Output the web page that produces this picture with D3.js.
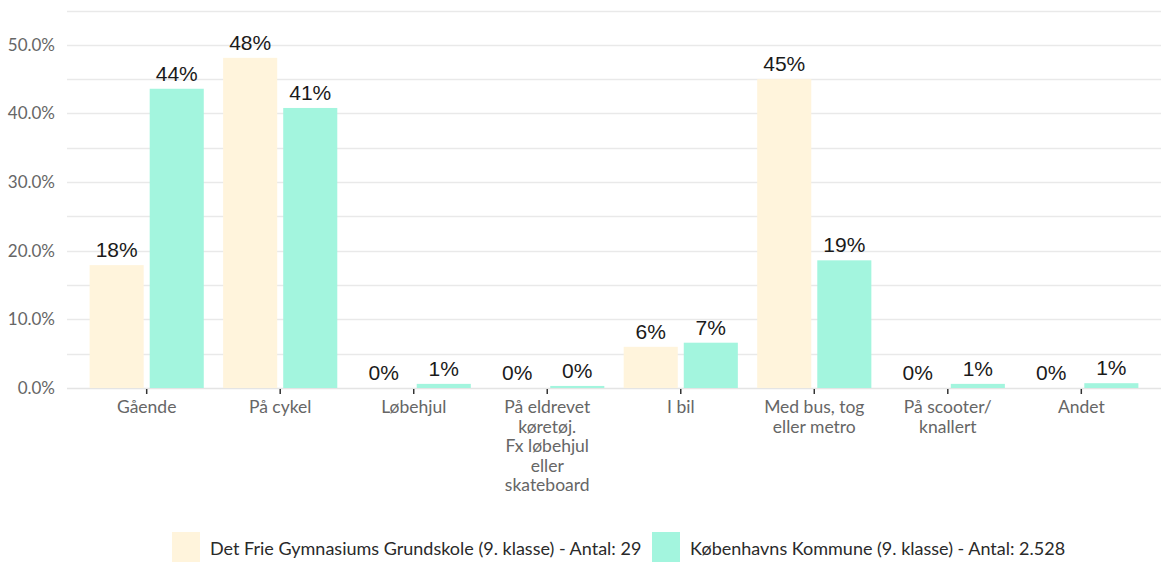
<!DOCTYPE html>
<html>
<head>
<meta charset="utf-8">
<script src="https://cdn.jsdelivr.net/npm/d3@7"></script>
<style>
  body { margin: 0; background: #fff; }
  svg { display: block; }
</style>
</head>
<body>
<div id="chart"></div>
<script>
const categories = ["Gående", "På cykel", "Løbehjul", "På eldrevet\nkøretøj.\nFx løbehjul\neller\nskateboard", "I bil", "Med bus, tog\neller metro", "På scooter/\nknallert", "Andet"];
const seriesNames = ["Det Frie Gymnasiums Grundskole (9. klasse) - Antal: 29", "Københavns Kommune (9. klasse) - Antal: 2.528"];
const schoolValues = [17.9, 48.1, 0, 0, 6.0, 45.0, 0, 0];
const kommuneValues = [43.6, 40.8, 0.6, 0.3, 6.6, 18.6, 0.6, 0.7];
const colors = ["#fff4dc", "#a3f5de"];
const yTicks = [0, 10, 20, 30, 40, 50];

const width = 1161, height = 562;
const svg = d3.select("#chart").append("svg")
  .attr("width", width).attr("height", height);

const y = d3.scaleLinear().domain([0, 55]).range([388, 10.5]);
const x = d3.scaleBand().domain(categories).range([80, 1148]).paddingInner(0.145).paddingOuter(0.072);
const xs = d3.scaleBand().domain([0, 1]).range([0, x.bandwidth()]).paddingInner(0.1);

// grid lines every 5%
svg.append("g").selectAll("line")
  .data(d3.range(5, 56, 5))
  .join("line")
    .attr("x1", 67).attr("x2", width)
    .attr("y1", d => Math.round(y(d)) + 0.5).attr("y2", d => Math.round(y(d)) + 0.5)
    .attr("stroke", "#e9e9e9").attr("stroke-width", 1.5);

// y axis labels
const yAxis = svg.append("g")
  .attr("transform", "translate(58,0)")
  .call(d3.axisLeft(y).tickValues(yTicks).tickSize(0).tickFormat(d => d.toFixed(1) + "%"));
yAxis.select(".domain").remove();
yAxis.selectAll("text")
  .attr("font-family", "Lato, 'Open Sans', sans-serif")
  .attr("font-size", 17).attr("fill", "#666");

// baseline
svg.append("line")
  .attr("x1", 67).attr("x2", width)
  .attr("y1", y(0) + 0.5).attr("y2", y(0) + 0.5)
  .attr("stroke", "#e4e4e4").attr("stroke-width", 1.5);

// bars
const rows = categories.map((c, i) => ({cat: c, vals: [schoolValues[i], kommuneValues[i]]}));
const groups = svg.append("g").selectAll("g")
  .data(rows)
  .join("g")
    .attr("transform", d => `translate(${x(d.cat)},0)`);

groups.selectAll("rect")
  .data(d => d.vals.map((v, k) => ({v, k})))
  .join("rect")
    .attr("x", d => xs(d.k))
    .attr("width", xs.bandwidth())
    .attr("y", d => y(d.v))
    .attr("height", d => y(0) - y(d.v))
    .attr("fill", d => colors[d.k]);

groups.selectAll("text.val")
  .data(d => d.vals.map((v, k) => ({v, k})))
  .join("text")
    .attr("class", "val")
    .attr("x", d => xs(d.k) + xs.bandwidth() / 2)
    .attr("y", d => y(d.v) - 8)
    .attr("text-anchor", "middle")
    .attr("font-family", "Arial, 'Liberation Sans', sans-serif")
    .attr("font-size", 21).attr("fill", "#1a1a1a")
    .text(d => Math.round(d.v) + "%");

// x ticks and labels
const xAxis = svg.append("g");
xAxis.selectAll("line")
  .data(categories)
  .join("line")
    .attr("x1", d => x(d) + x.bandwidth() / 2).attr("x2", d => x(d) + x.bandwidth() / 2)
    .attr("y1", y(0) + 1).attr("y2", y(0) + 6)
    .attr("stroke", "#333").attr("stroke-width", 1.5);

xAxis.selectAll("text")
  .data(categories)
  .join("text")
    .attr("x", d => x(d) + x.bandwidth() / 2)
    .attr("y", 413)
    .attr("text-anchor", "middle")
    .attr("font-family", "Lato, 'Open Sans', sans-serif")
    .attr("font-size", 17.5).attr("fill", "#666")
    .each(function(d) {
      const t = d3.select(this);
      d.split("\n").forEach((line, i) => {
        t.append("tspan").attr("x", x(d) + x.bandwidth() / 2).attr("dy", i ? 19.5 : 0).text(line);
      });
    });

// legend
const legend = svg.append("g");
const legendX = [172, 652];
seriesNames.forEach((name, i) => {
  legend.append("rect")
    .attr("x", legendX[i]).attr("y", 532).attr("width", 28).attr("height", 30)
    .attr("fill", colors[i]);
  legend.append("text")
    .attr("x", legendX[i] + 38).attr("y", 555)
    .attr("font-family", "Lato, 'Open Sans', sans-serif")
    .attr("font-size", 18).attr("fill", "#2a2a2a")
    .text(name);
});
</script>
</body>
</html>
